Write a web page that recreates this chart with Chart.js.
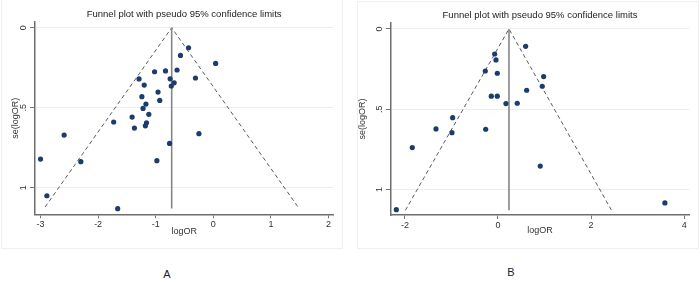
<!DOCTYPE html>
<html>
<head>
<meta charset="utf-8">
<script src="https://cdn.jsdelivr.net/npm/chart.js@4.4.1/dist/chart.umd.min.js"></script>
<style>
  body { margin: 0; width: 700px; height: 284px; background: #fff; position: relative; overflow: hidden;
         font-family: "Liberation Sans", Arial, sans-serif; }
  .box { position: absolute; border: 1px solid #eef1f3; }
  .wrap { position: absolute; }
  .lab { position: absolute; font-size: 11px; color: #222; transform: translate(-50%, -50%); }
</style>
</head>
<body>
<div class="box" style="left:1px;top:-1px;width:340px;height:248px"></div>
<div class="box" style="left:357px;top:1px;width:340px;height:246px"></div>
<div class="wrap" style="left:0;top:0;width:345px;height:250px"><canvas id="funnelA"></canvas></div>
<div class="wrap" style="left:355px;top:1px;width:345px;height:249px"><canvas id="funnelB"></canvas></div>
<div class="lab" style="left:167px;top:274px">A</div>
<div class="lab" style="left:511px;top:272px">B</div>

<script>
// ---- panel A ----
var aLogOR = [-0.43, -0.57, 0.04, -1.02, -0.83, -0.63, -1.29, -0.75, -0.31, -1.2, -0.68, -0.73,
              -0.96, -1.24, -0.93, -1.17, -1.22, -1.12, -1.41, -1.73, -1.16, -1.37, -1.18, -2.59,
              -0.25, -0.76, -3.0, -2.3, -0.98, -2.89, -1.66]
var aSe = [0.125, 0.173, 0.223, 0.275, 0.27, 0.264, 0.32, 0.319, 0.314, 0.358, 0.344, 0.364,
           0.402, 0.431, 0.454, 0.477, 0.504, 0.541, 0.558, 0.589, 0.594, 0.627, 0.613, 0.671,
           0.662, 0.723, 0.821, 0.837, 0.831, 1.05, 1.131]
var aFunnelX = [-2.92, -0.723, 1.47]
var aFunnelSe = [1.12, 0, 1.12]
var aCenterX = [-0.723, -0.723]
var aCenterSe = [0, 1.13]
var aXTicks = [-3, -2, -1, 0, 1, 2]

// ---- panel B ----
var bLogOR = [0.594, -0.071, -0.043, -0.273, -0.015, 0.981, 0.951, 0.616, -0.144, -0.015,
              0.171, 0.414, -0.974, -1.332, -0.264, -0.989, -1.841, 0.908, -2.184, 3.586]
var bSe = [0.108, 0.156, 0.193, 0.262, 0.276, 0.297, 0.357, 0.382, 0.419, 0.419,
           0.465, 0.463, 0.553, 0.623, 0.625, 0.646, 0.739, 0.854, 1.126, 1.084]
var bFunnelX = [-1.99, 0.236, 2.44]
var bFunnelSe = [1.13, 0, 1.13]
var bCenterX = [0.236, 0.236]
var bCenterSe = [0, 1.13]
var bXTicks = [-2, 0, 2, 4]

var yTicks = [0, 0.5, 1]
var titleText = 'Funnel plot with pseudo 95% confidence limits'

function pts(xs, ys){
  return xs.map(function(x, i){ return {x: x, y: ys[i]} })
}

function fmtY(v){
  if (v === 0) return '0'
  return String(v).replace(/^0\./, '.')
}

// y tick labels rotated like Stata
var rotYLabels = {
  id: 'rotYLabels',
  afterDraw: function(chart, args, opts){
    var s = chart.scales.y
    var ctx = chart.ctx
    ctx.save()
    ctx.font = '9px "Liberation Sans", Arial, sans-serif'
    ctx.fillStyle = '#333'
    ctx.textAlign = 'center'
    ctx.textBaseline = 'middle'
    s.ticks.forEach(function(t){
      var y = s.getPixelForValue(t.value)
      ctx.save()
      ctx.translate(s.right - opts.gap, y)
      ctx.rotate(-Math.PI / 2)
      ctx.fillText(fmtY(t.value), 0, 0)
      ctx.restore()
    })
    ctx.restore()
  }
}

function funnelChart(id, cfg){
  var ctx = document.getElementById(id).getContext('2d')
  return new Chart(ctx, {
    type: 'scatter',
    data: {
      datasets: [
        { data: pts(cfg.x, cfg.se), backgroundColor: '#1b3d6d', borderColor: '#1b3d6d',
          pointRadius: 2.6, pointBorderWidth: 0 },
        { data: pts(cfg.cx, cfg.cse), showLine: true, borderColor: '#858585', borderWidth: 1.6,
          pointRadius: 0 },
        { data: pts(cfg.fx, cfg.fse), showLine: true, borderColor: '#5a5a5a', borderWidth: 1,
          borderDash: [4, 3], pointRadius: 0 }
      ]
    },
    options: {
      responsive: true,
      maintainAspectRatio: false,
      animation: false,
      layout: { autoPadding: false, padding: { left: 0, right: cfg.padRight, top: 0, bottom: 0 } },
      plugins: {
        legend: { display: false },
        tooltip: { enabled: false },
        title: {
          display: true, text: titleText, fullSize: false, color: '#222',
          font: { family: '"Liberation Sans", Arial, sans-serif', size: 9.5, weight: 'normal' },
          padding: { top: 8.5, bottom: 2.1 }
        },
        rotYLabels: { gap: cfg.labelGap }
      },
      scales: {
        x: {
          type: 'linear', min: cfg.xmin, max: cfg.xmax,
          afterBuildTicks: function(s){ s.ticks = cfg.xticks.map(function(v){ return {value: v} }) },
          afterFit: function(s){ s.height = cfg.xHeight },
          grid: { display: true, drawOnChartArea: false, drawTicks: true, tickLength: 4,
                  tickColor: '#777', tickWidth: 1 },
          border: { color: '#6e6e6e', width: 1.5 },
          ticks: { color: '#333', padding: 1, maxRotation: 0,
                   font: { family: '"Liberation Sans", Arial, sans-serif', size: 9 } },
          title: { display: true, text: 'logOR', color: '#333',
                   font: { family: '"Liberation Sans", Arial, sans-serif', size: 9 },
                   padding: { top: 0, bottom: cfg.xTitlePad } }
        },
        y: {
          type: 'linear', reverse: true, min: cfg.ymin, max: cfg.ymax,
          afterBuildTicks: function(s){ s.ticks = yTicks.map(function(v){ return {value: v} }) },
          afterFit: function(s){ s.width = cfg.yWidth },
          grid: { color: '#e9eef1', lineWidth: 1, drawTicks: true, tickLength: 5,
                  tickColor: '#777', tickWidth: 1 },
          border: { color: '#6e6e6e', width: 1.5 },
          ticks: { color: 'rgba(0,0,0,0)', padding: 2,
                   font: { family: '"Liberation Sans", Arial, sans-serif', size: 9 } },
          title: { display: true, text: 'se(logOR)', color: '#333',
                   font: { family: '"Liberation Sans", Arial, sans-serif', size: 9 },
                   padding: { top: cfg.yTitlePad, bottom: 0 } }
        }
      }
    },
    plugins: [rotYLabels]
  })
}

funnelChart('funnelA', {
  x: aLogOR, se: aSe, cx: aCenterX, cse: aCenterSe, fx: aFunnelX, fse: aFunnelSe,
  xticks: aXTicks, xmin: -3.096, xmax: 2.083, ymin: -0.036, ymax: 1.166,
  padRight: 11.7, yWidth: 35, xHeight: 35.7, xTitlePad: 12.6, yTitlePad: 9.9, labelGap: 11
})

funnelChart('funnelB', {
  x: bLogOR, se: bSe, cx: bCenterX, cse: bCenterSe, fx: bFunnelX, fse: bFunnelSe,
  xticks: bXTicks, xmin: -2.305, xmax: 4.11, ymin: -0.037, ymax: 1.159,
  padRight: 10.7, yWidth: 35.7, xHeight: 35, xTitlePad: 13.6, yTitlePad: 2.1, labelGap: 10.7
})
</script>
</body>
</html>
